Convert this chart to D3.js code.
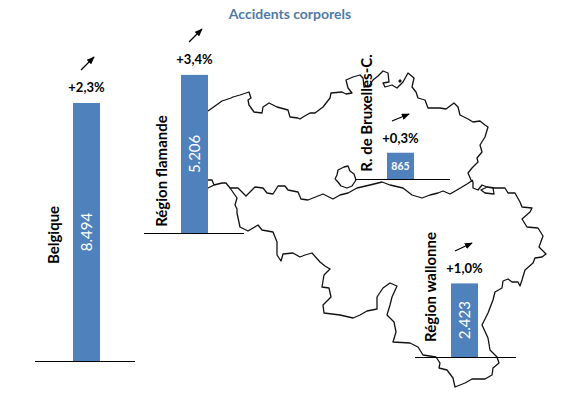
<!DOCTYPE html>
<html>
<head>
<meta charset="utf-8">
<script src="https://cdn.jsdelivr.net/npm/d3@7"></script>
<style>
  html, body { margin: 0; padding: 0; background: #fff; }
  svg { display: block; }
  text { font-family: Lato, "Open Sans", sans-serif; }
</style>
</head>
<body>
<script>
// data
var regions = ["Belgique", "Région flamande", "R. de Bruxelles-C.", "Région wallonne"];
var accidents = [8494, 5206, 865, 2423];
var valueLabels = ["8.494", "5.206", "865", "2.423"];
var changes = ["+2,3%", "+3,4%", "+0,3%", "+1,0%"];

// map of Belgium, [x, y] on the page
var countryOutline = [[208,111],[215,106],[222,101],[231,98],[233,97],[240,95],[249,92],[251,98],[248,100],[249,105],[254,112],[262,113],[263,107],[269,103],[277,107],[288,110],[290,117],[298,118],[300,119],[303,117],[310,113],[315,113],[323,107],[330,98],[331,93],[342,92],[346,94],[352,93],[348,88],[346,80],[353,77],[360,75],[363,78],[364,87],[369,86],[373,80],[378,76],[383,71],[388,73],[389,82],[383,83],[385,87],[392,85],[397,88],[403,82],[408,73],[414,78],[412,87],[416,92],[418,98],[425,100],[428,108],[435,108],[440,108],[446,109],[454,103],[458,107],[460,115],[468,119],[473,122],[480,121],[485,125],[488,127],[485,137],[480,145],[482,152],[477,158],[478,162],[472,168],[468,173],[471,180],[473,182],[473,188],[478,190],[482,185],[487,187],[493,188],[494,194],[485,193],[481,190],[487,187],[495,188],[505,188],[508,193],[515,193],[520,202],[522,207],[532,208],[530,212],[522,219],[527,227],[538,228],[543,236],[539,247],[546,254],[542,257],[535,258],[533,263],[525,270],[522,280],[520,286],[518,282],[512,282],[508,279],[503,281],[502,288],[495,292],[493,300],[488,313],[482,325],[488,338],[490,350],[497,357],[499,363],[493,368],[492,375],[485,379],[472,379],[465,383],[455,387],[453,378],[447,370],[439,368],[440,363],[436,357],[423,355],[418,347],[410,343],[393,342],[396,332],[394,322],[387,315],[390,305],[392,297],[397,286],[390,283],[383,288],[377,297],[377,309],[367,311],[360,315],[353,318],[340,315],[324,313],[323,305],[331,297],[329,288],[322,287],[324,275],[330,269],[325,266],[320,262],[312,253],[305,255],[300,257],[293,253],[283,254],[281,261],[277,255],[277,242],[273,232],[262,230],[258,225],[248,231],[240,227],[237,213],[237,209],[235,205],[237,198],[230,188]];
var regionBorder = [[208,180],[212,180],[214,185],[208,188],[214,185],[222,183],[226,183],[230,188],[238,188],[246,196],[255,187],[263,188],[267,193],[273,194],[278,186],[285,186],[288,190],[298,192],[301,199],[308,200],[323,194],[333,199],[340,195],[348,193],[357,188],[370,185],[382,182],[390,185],[403,188],[412,195],[422,198],[430,195],[438,193],[443,191],[450,194],[457,190],[467,184],[473,180]];
var brussels = [[335,179],[337,175],[338,170],[344,167],[348,166],[350,171],[354,174],[356,180],[352,186],[347,188],[341,186],[338,182],[335,179]];
var mapDot = [[399,82],[401,80]];

var width = 567, height = 394;

// where each small chart stands on the page
var barX = d3.scaleOrdinal().domain(regions).range([73, 181, 387, 451]);
var baseY = d3.scaleOrdinal().domain(regions).range([361, 233, 179, 357]);
var axisX = d3.scaleOrdinal().domain(regions).range([[35,135],[144,244],[355,450],[415,516]]);
var nameX = d3.scaleOrdinal().domain(regions).range([54, 162, 367, 431]);
var nameY = d3.scaleOrdinal().domain(regions).range([235, 171, 113, 287]);
var pctY = d3.scaleOrdinal().domain(regions).range([87, 59, 138, 268]);
var arrows = d3.scaleOrdinal().domain(regions).range([
  [81,70,94,57], [189,42,202,29], [392,121,409,114], [455,251,472,243]
]);

var barW = 27;
var h = d3.scaleLinear().domain([0, 8494]).range([0, 258]);

var svg = d3.select("body").append("svg")
    .attr("width", width)
    .attr("height", height);

svg.append("defs").append("marker")
    .attr("id", "head")
    .attr("markerUnits", "userSpaceOnUse")
    .attr("viewBox", "0 0 10 8")
    .attr("refX", 9).attr("refY", 4)
    .attr("markerWidth", 8).attr("markerHeight", 6.5)
    .attr("orient", "auto")
  .append("path")
    .attr("d", "M0,0L10,4L0,8Z")
    .attr("fill", "#000");

// map first, the bars sit on top of it
var line = d3.line().curve(d3.curveLinear);
[countryOutline, regionBorder, brussels].forEach(function (p) {
  svg.append("path")
      .attr("d", line(p))
      .attr("fill", "none")
      .attr("stroke", "#111")
      .attr("stroke-width", 1.3)
      .attr("stroke-linejoin", "round");
});
svg.append("path")
    .attr("d", line(mapDot))
    .attr("stroke", "#111")
    .attr("stroke-width", 2.5);

svg.append("text")
    .attr("x", 290)
    .attr("y", 18.5)
    .attr("text-anchor", "middle")
    .attr("font-size", 14)
    .attr("font-weight", 700)
    .attr("fill", "#4f7aa6")
    .text("Accidents corporels");

regions.forEach(function (r, i) {
  var x = barX(r), y0 = baseY(r), bh = h(accidents[i]);

  svg.append("rect")
      .attr("x", x)
      .attr("y", y0 - bh)
      .attr("width", barW)
      .attr("height", bh)
      .attr("fill", "#4f81bd");

  svg.append("line")
      .attr("x1", axisX(r)[0]).attr("x2", axisX(r)[1])
      .attr("y1", y0 + 0.5).attr("y2", y0 + 0.5)
      .attr("stroke", "#000");

  svg.append("text")
      .attr("transform", "translate(" + nameX(r) + "," + nameY(r) + ") rotate(-90)")
      .attr("dy", "0.35em")
      .attr("text-anchor", "middle")
      .attr("font-size", 15)
      .attr("font-weight", 700)
      .attr("fill", "#000")
      .text(r);

  if (accidents[i] > 1000) {
    svg.append("text")
        .attr("transform", "translate(" + (x + barW / 2) + "," + (y0 - bh / 2) + ") rotate(-90)")
        .attr("dy", "0.35em")
        .attr("text-anchor", "middle")
        .attr("font-size", 15)
        .attr("fill", "#fff")
        .text(valueLabels[i]);
  } else {
    svg.append("text")
        .attr("x", x + barW / 2)
        .attr("y", y0 - bh / 2)
        .attr("dy", "0.35em")
        .attr("text-anchor", "middle")
        .attr("font-size", 10.5)
        .attr("font-weight", 700)
        .attr("fill", "#fff")
        .text(valueLabels[i]);
  }

  svg.append("text")
      .attr("x", x + barW / 2)
      .attr("y", pctY(r))
      .attr("dy", "0.35em")
      .attr("text-anchor", "middle")
      .attr("font-size", 13)
      .attr("font-weight", 700)
      .attr("fill", "#000")
      .text(changes[i]);

  var a = arrows(r);
  svg.append("line")
      .attr("x1", a[0]).attr("y1", a[1])
      .attr("x2", a[2]).attr("y2", a[3])
      .attr("stroke", "#000")
      .attr("stroke-width", 1.3)
      .attr("marker-end", "url(#head)");
});
</script>
</body>
</html>
